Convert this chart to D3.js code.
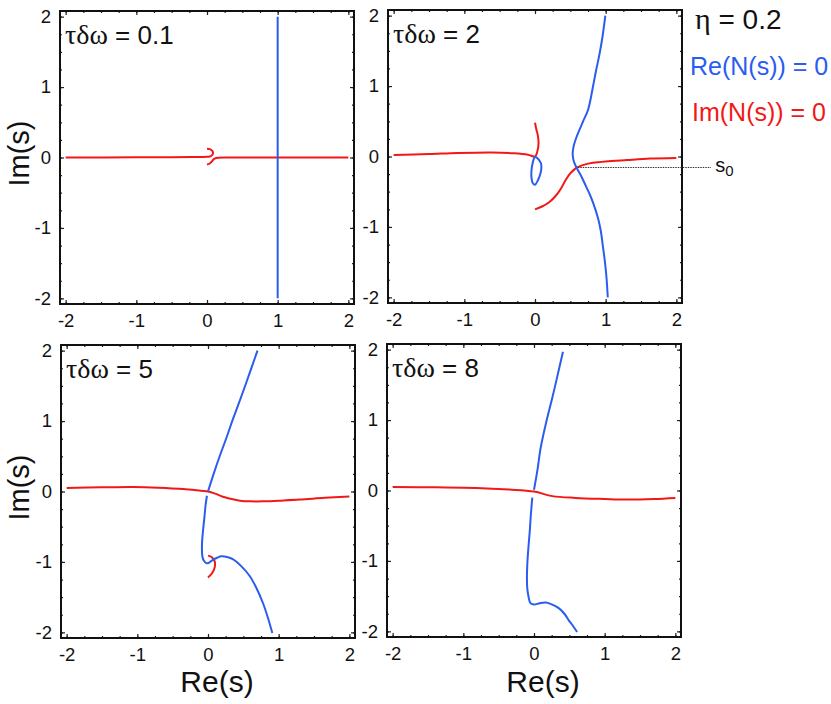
<html>
<script src="https://d3js.org/d3.v7.min.js"></script>
<style>
  body { margin: 0; background: #fff; }
  text { font-family: "Liberation Sans", Arial, sans-serif; }
</style>
<body>
<svg width="831" height="704"></svg>
<script>

// ---- data ----
var tickValues = [-2, -1, 0, 1, 2];
var titleValues = ["0.1", "2", "5", "8"];

// tau*dw = 0.1
var p1Blue = [[1, 2], [1, 1], [1, 0], [1, -1], [1, -2]];
var p1RedA = [[-2, 0], [-1, 0.002], [-0.5, 0.004], [-0.2, 0.006], [0, 0.01], [0.04, 0.015], [0.07, 0.03],
              [0.085, 0.06], [0.075, 0.095], [0.04, 0.118], [0, 0.125]];
var p1RedB = [[0, -0.1], [0.04, -0.085], [0.07, -0.055], [0.1, -0.02], [0.15, -0.005], [0.3, 0], [1, 0], [2, 0]];

// tau*dw = 2
var p2BlueMain = [[0.995, 2.0], [0.955, 1.7], [0.914, 1.46], [0.86, 1.2], [0.82, 0.99], [0.75, 0.66], [0.68, 0.5],
                  [0.63, 0.38], [0.585, 0.27], [0.55, 0.16], [0.533, 0.05], [0.54, -0.03], [0.557, -0.09],
                  [0.6, -0.18], [0.66, -0.29], [0.72, -0.42], [0.78, -0.55], [0.83, -0.68], [0.89, -0.87],
                  [0.93, -1.05], [0.96, -1.27], [0.99, -1.5], [1.01, -1.7], [1.03, -2.0]];
var p2BlueLoop = [[0, 0], [0.05, -0.04], [0.085, -0.1], [0.09, -0.16], [0.075, -0.25], [0.04, -0.34], [0, -0.4],
                  [-0.03, -0.38], [-0.05, -0.3], [-0.05, -0.2], [-0.035, -0.1], [-0.015, -0.03], [0, 0]];
var p2RedA = [[-2, 0.02], [-1.5, 0.035], [-1.09, 0.05], [-0.61, 0.057], [-0.3, 0.045], [-0.1, 0.025], [0, 0],
              [0.03, 0.06], [0.05, 0.19], [0.04, 0.3], [0.02, 0.38], [0, 0.48]];
var p2RedB = [[0, -0.75], [0.1, -0.71], [0.2, -0.65], [0.3, -0.55], [0.37, -0.45], [0.43, -0.34], [0.49, -0.25],
              [0.55, -0.19], [0.6, -0.155], [0.7, -0.115], [0.82, -0.09], [1.0, -0.07], [1.3, -0.05],
              [1.63, -0.03], [2.0, -0.02]];
var s0 = [0.605, -0.156];

// tau*dw = 5
var p3BlueUpper = [[0, 0], [0.08, 0.25], [0.165, 0.5], [0.26, 0.76], [0.35, 1.02], [0.45, 1.29], [0.54, 1.54],
                   [0.62, 1.77], [0.7, 2.0]];
var p3BlueLower = [[-0.015, -0.06], [-0.035, -0.2], [-0.05, -0.36], [-0.07, -0.55], [-0.085, -0.75], [-0.08, -0.92],
                   [-0.06, -0.98], [-0.02, -1.02], [0.03, -1.0], [0.07, -0.97], [0.13, -0.94], [0.19, -0.92],
                   [0.27, -0.93], [0.35, -0.96], [0.47, -1.06], [0.59, -1.2], [0.68, -1.36], [0.78, -1.59],
                   [0.85, -1.8], [0.91, -2.01]];
var p3RedHook = [[0, -0.91], [0.05, -0.93], [0.09, -0.98], [0.1, -1.04], [0.085, -1.11], [0.05, -1.17], [0, -1.22]];
var p3Red = [[-2, 0.05], [-1.5, 0.06], [-1.06, 0.065], [-0.7, 0.055], [-0.35, 0.035], [-0.1, 0.01], [0, 0],
             [0.1, -0.03], [0.21, -0.075], [0.3, -0.1], [0.45, -0.13], [0.6, -0.14], [0.78, -0.14], [1.0, -0.13],
             [1.3, -0.115], [1.65, -0.09], [2.0, -0.07]];

// tau*dw = 8
var p4BlueUpper = [[0, 0.01], [0.05, 0.3], [0.095, 0.61], [0.18, 1.0], [0.26, 1.32], [0.33, 1.62], [0.41, 1.97]];
var p4BlueLower = [[-0.024, -0.1], [-0.045, -0.35], [-0.06, -0.58], [-0.08, -0.82], [-0.095, -1.05], [-0.1, -1.25],
                   [-0.095, -1.39], [-0.075, -1.52], [-0.05, -1.6], [0, -1.62], [0.08, -1.6], [0.165, -1.59],
                   [0.26, -1.62], [0.35, -1.67], [0.43, -1.75], [0.49, -1.84], [0.55, -1.92], [0.61, -2.01]];
var p4Red = [[-2, 0.05], [-1.4, 0.045], [-0.82, 0.037], [-0.35, 0.014], [0, -0.015], [0.26, -0.08], [0.59, -0.105],
             [1.0, -0.12], [1.3, -0.128], [1.7, -0.12], [2.0, -0.105]];

var BLUE = "#2b5cf0", RED = "#f21818";
var SERIF = "'Liberation Serif', 'DejaVu Serif', serif";

var panels = [
  { left: 60, top: 11, blue: [p1Blue], red: [p1RedA, p1RedB], ylab: true, xlab: false },
  { left: 388, top: 10, blue: [p2BlueMain, p2BlueLoop], red: [p2RedA, p2RedB], ylab: false, xlab: false },
  { left: 61, top: 345, blue: [p3BlueUpper, p3BlueLower], red: [p3Red, p3RedHook], ylab: true, xlab: true },
  { left: 387, top: 344, blue: [p4BlueUpper, p4BlueLower], red: [p4Red], ylab: false, xlab: true }
];
var W = 294, H = 293;

var svg = d3.select("svg");
var minor = d3.range(-2, 2.01, 0.25);

panels.forEach(function(p, i) {
  var x = d3.scaleLinear().domain([-2.08, 2.08]).range([p.left, p.left + W]);
  var y = d3.scaleLinear().domain([-2.08, 2.08]).range([p.top + H, p.top]);
  p.x = x; p.y = y;

  var g = svg.append("g");
  var line = d3.line().x(function(d) { return x(d[0]); }).y(function(d) { return y(d[1]); })
    .curve(d3.curveCatmullRom.alpha(0.5));

  // ticks on all four sides, pointing inward
  function side(axis, tr) {
    var a = g.append("g").attr("transform", tr)
      .call(axis.tickSizeOuter(0));
    a.select(".domain").remove();
    a.selectAll("line").attr("stroke", "#222").attr("stroke-width", 1.2);
    return a;
  }
  var fmt = function(d) { return d.toString(); };
  side(d3.axisBottom(x).tickValues(minor).tickFormat("").tickSizeInner(-2), "translate(0," + (p.top + H) + ")");
  side(d3.axisTop(x).tickValues(minor).tickFormat("").tickSizeInner(-2), "translate(0," + p.top + ")");
  side(d3.axisLeft(y).tickValues(minor).tickFormat("").tickSizeInner(-2), "translate(" + p.left + ",0)");
  side(d3.axisRight(y).tickValues(minor).tickFormat("").tickSizeInner(-2), "translate(" + (p.left + W) + ",0)");

  side(d3.axisBottom(x).tickValues(tickValues).tickFormat(fmt).tickSizeInner(-4).tickPadding(10),
    "translate(0," + (p.top + H) + ")");
  side(d3.axisTop(x).tickValues(tickValues).tickFormat("").tickSizeInner(-4), "translate(0," + p.top + ")");
  side(d3.axisLeft(y).tickValues(tickValues).tickFormat(fmt).tickSizeInner(-4).tickPadding(9),
    "translate(" + p.left + ",0)");
  side(d3.axisRight(y).tickValues(tickValues).tickFormat("").tickSizeInner(-4), "translate(" + (p.left + W) + ",0)");

  g.selectAll(".tick text")
    .style("font-family", "'Liberation Sans', Arial, sans-serif")
    .style("font-size", "18.5px")
    .attr("fill", "#111");

  // curves
  p.red.forEach(function(c) {
    g.append("path").attr("d", line(c)).attr("fill", "none").attr("stroke", RED).attr("stroke-width", 2);
  });
  p.blue.forEach(function(c) {
    g.append("path").attr("d", line(c)).attr("fill", "none").attr("stroke", BLUE).attr("stroke-width", 2);
  });

  // frame
  g.append("rect").attr("x", p.left).attr("y", p.top).attr("width", W).attr("height", H)
    .attr("fill", "none").attr("stroke", "#111").attr("stroke-width", 2);

  // title
  var t = g.append("text").attr("x", p.left + 5).attr("y", p.top + 33)
    .style("font-size", "26px").attr("fill", "#111");
  t.append("tspan").style("font-family", SERIF).style("font-size", "28px").text("τδω");
  t.append("tspan").text(" = " + titleValues[i]);

  if (p.ylab) {
    g.append("text").attr("transform", "translate(29," + (p.top + H / 2 - 4) + ") rotate(-90)")
      .attr("text-anchor", "middle").style("font-size", "29px").attr("fill", "#111").text("Im(s)");
  }
  if (p.xlab) {
    g.append("text").attr("x", p.left + W / 2 + 9).attr("y", 692)
      .attr("text-anchor", "middle").style("font-size", "30px").attr("fill", "#111").text("Re(s)");
  }
});

// s0 marker in panel 2
var p2 = panels[1];
svg.append("line")
  .attr("x1", p2.x(s0[0])).attr("y1", p2.y(s0[1]))
  .attr("x2", p2.x(2.49)).attr("y2", p2.y(s0[1]))
  .attr("stroke", "#333").attr("stroke-width", 1).attr("stroke-dasharray", "1.5,1");
var s0t = svg.append("text").attr("x", p2.x(2.55)).attr("y", p2.y(s0[1]) + 5)
  .style("font-size", "20px").attr("fill", "#111");
s0t.append("tspan").text("s");
s0t.append("tspan").attr("dy", 4).style("font-size", "15px").text("0");

// legend
var eta = svg.append("text").attr("x", 695).attr("y", 29).style("font-size", "28px").attr("fill", "#111");
eta.append("tspan").style("font-family", SERIF).style("font-size", "30px").text("η");
eta.append("tspan").text(" = 0.2");
svg.append("text").attr("x", 690).attr("y", 75).style("font-size", "25px").attr("fill", BLUE).text("Re(N(s)) = 0");
svg.append("text").attr("x", 692).attr("y", 121).style("font-size", "25px").attr("fill", RED).text("Im(N(s)) = 0");

</script>
</body>
</html>
